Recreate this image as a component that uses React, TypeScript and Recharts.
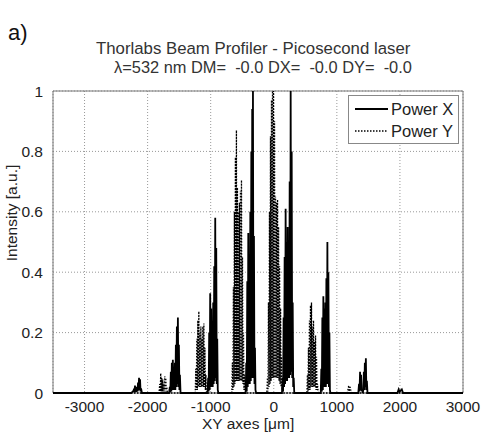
import { CartesianGrid, Line, LineChart, ReferenceArea, XAxis, YAxis } from "recharts";

// positions in um, intensity in a.u.
const powerXPoints: [number, number][] = [
  [-3500, 0], [-2260, 0], [-2232, 0.005], [-2215, 0.012], [-2207, 0.002], [-2200, 0.025], [-2192, 0.003],
  [-2184, 0.015], [-2176, 0.004], [-2168, 0.02], [-2160, 0.005], [-2152, 0.035], [-2144, 0.008], [-2136, 0.05],
  [-2128, 0.01], [-2120, 0.045], [-2112, 0.005], [-2104, 0.015], [-2090, 0],
  [-1660, 0], [-1648, 0.02], [-1640, 0.002], [-1632, 0.07], [-1624, 0.005], [-1616, 0.1], [-1608, 0.01],
  [-1600, 0.11], [-1592, 0.01], [-1584, 0.08], [-1576, 0.01], [-1568, 0.1], [-1560, 0.01], [-1552, 0.16],
  [-1544, 0.02], [-1536, 0.22], [-1528, 0.03], [-1520, 0.25], [-1512, 0.02], [-1504, 0.16], [-1496, 0.01],
  [-1488, 0.06], [-1478, 0],
  [-1050, 0], [-1040, 0.05], [-1032, 0.005], [-1024, 0.2], [-1016, 0.01], [-1008, 0.33], [-1000, 0.02],
  [-992, 0.28], [-984, 0.02], [-976, 0.22], [-968, 0.02], [-960, 0.3], [-952, 0.03], [-944, 0.42],
  [-936, 0.04], [-928, 0.58], [-920, 0.05], [-912, 0.48], [-904, 0.03], [-896, 0.18], [-888, 0.01], [-878, 0],
  [-445, 0], [-436, 0.1], [-428, 0.005], [-420, 0.37], [-412, 0.02], [-404, 0.53], [-396, 0.03], [-388, 0.45],
  [-380, 0.03], [-372, 0.6], [-364, 0.04], [-356, 0.8], [-348, 0.05], [-342, 0.94], [-336, 0.06], [-330, 1.0],
  [-322, 0.05], [-314, 0.52], [-306, 0.03], [-298, 0.15], [-290, 0.01], [-280, 0],
  [130, 0], [140, 0.05], [148, 0.005], [156, 0.25], [164, 0.02], [172, 0.45], [180, 0.03], [188, 0.61],
  [196, 0.04], [204, 0.5], [212, 0.04], [220, 0.55], [228, 0.05], [236, 0.5], [244, 0.05], [252, 0.7],
  [260, 0.06], [268, 1.0], [276, 0.07], [284, 0.8], [292, 0.05], [300, 0.3], [308, 0.02], [316, 0.05], [325, 0],
  [745, 0], [754, 0.08], [762, 0.005], [770, 0.25], [778, 0.01], [786, 0.32], [794, 0.02], [802, 0.28],
  [810, 0.02], [818, 0.3], [826, 0.02], [834, 0.38], [842, 0.03], [850, 0.5], [858, 0.03], [866, 0.4],
  [874, 0.02], [882, 0.2], [890, 0.01], [898, 0],
  [1340, 0], [1352, 0.03], [1360, 0.005], [1368, 0.07], [1376, 0.01], [1384, 0.06], [1392, 0.01], [1400, 0.01],
  [1410, 0], [1420, 0.01], [1428, 0.07], [1436, 0.01], [1444, 0.1], [1452, 0.02], [1460, 0.115], [1468, 0.01],
  [1476, 0.04], [1486, 0],
  [1960, 0], [1980, 0.012], [1995, 0.004], [2010, 0.008], [2030, 0.012], [2050, 0], [3000, 0],
];

const powerYPoints: [number, number][] = [
  [-3500, 0],
  [-1820, 0], [-1808, 0.03], [-1800, 0.005], [-1792, 0.065], [-1784, 0.005], [-1776, 0.05], [-1768, 0.005],
  [-1760, 0.045], [-1752, 0.005], [-1744, 0.03], [-1736, 0.005], [-1728, 0.055], [-1720, 0.005], [-1712, 0.05],
  [-1704, 0.005], [-1696, 0.02], [-1686, 0],
  [-1245, 0], [-1236, 0.08], [-1228, 0.01], [-1220, 0.18], [-1212, 0.01], [-1204, 0.24], [-1196, 0.02],
  [-1188, 0.27], [-1180, 0.02], [-1172, 0.2], [-1164, 0.02], [-1156, 0.22], [-1148, 0.02], [-1140, 0.18],
  [-1132, 0.02], [-1124, 0.22], [-1116, 0.02], [-1108, 0.23], [-1100, 0.02], [-1092, 0.15], [-1084, 0.01],
  [-1076, 0.06], [-1066, 0],
  [-665, 0], [-656, 0.1], [-648, 0.01], [-640, 0.35], [-632, 0.02], [-624, 0.6], [-616, 0.03], [-608, 0.78],
  [-600, 0.04], [-592, 0.87], [-584, 0.04], [-576, 0.68], [-568, 0.04], [-560, 0.6], [-552, 0.04], [-544, 0.63],
  [-536, 0.04], [-528, 0.67], [-520, 0.04], [-512, 0.705], [-504, 0.04], [-496, 0.45], [-488, 0.03], [-480, 0.2],
  [-472, 0.01], [-464, 0.06], [-454, 0],
  [-110, 0], [-100, 0.05], [-92, 0.005], [-84, 0.3], [-76, 0.02], [-68, 0.6], [-60, 0.03], [-52, 0.85],
  [-44, 0.04], [-36, 0.97], [-28, 0.05], [-20, 1.0], [-12, 0.05], [-4, 1.0], [4, 0.05], [12, 0.9], [20, 0.05],
  [28, 0.65], [36, 0.05], [44, 0.63], [52, 0.05], [60, 0.64], [68, 0.05], [76, 0.55], [84, 0.04], [92, 0.42],
  [100, 0.03], [108, 0.28], [116, 0.02], [124, 0.12], [132, 0.01], [140, 0.03], [150, 0],
  [525, 0], [534, 0.06], [542, 0.005], [550, 0.15], [558, 0.01], [566, 0.24], [574, 0.01], [582, 0.29],
  [590, 0.02], [598, 0.3], [606, 0.02], [614, 0.22], [622, 0.02], [630, 0.24], [638, 0.02], [646, 0.17],
  [654, 0.02], [662, 0.19], [670, 0.01], [678, 0.12], [686, 0.01], [694, 0.03], [704, 0],
  [1165, 0], [1180, 0.015], [1188, 0.025], [1196, 0.005], [1204, 0.015], [1212, 0.02], [1225, 0.003], [1240, 0],
  [3000, 0],
];

const xTicks = [-3000, -2000, -1000, 0, 1000, 2000, 3000];
const yTicks = [0, 0.2, 0.4, 0.6, 0.8, 1];

const seriesNames = ["Power X", "Power Y"];
const titleLines = [
  "Thorlabs Beam Profiler - Picosecond laser",
  "\u03bb=532 nm DM=  -0.0 DX=  -0.0 DY=  -0.0",
];

const powerX = powerXPoints.map(([x, y]) => ({ x, y }));
const powerY = powerYPoints.map(([x, y]) => ({ x, y }));

const FONT = "'Liberation Sans', Arial, sans-serif";

function LegendBox() {
  return (
    <div
      style={{
        position: "absolute",
        left: 348,
        top: 95,
        width: 111,
        height: 49,
        border: "1px solid #888",
        background: "#fff",
        fontFamily: FONT,
        fontSize: 16.5,
        color: "#222",
        boxSizing: "border-box",
        paddingTop: 2,
        zIndex: 2,
      }}
    >
      {seriesNames.map((name, i) => (
        <div key={name} style={{ display: "flex", alignItems: "center", height: 22 }}>
          <svg width={38} height={10} style={{ marginLeft: 6 }}>
            <line
              x1={0}
              x2={33}
              y1={5}
              y2={5}
              stroke="#000"
              strokeWidth={i === 0 ? 2 : 1.5}
              strokeDasharray={i === 0 ? undefined : "1.5 1.5"}
            />
          </svg>
          <span style={{ marginLeft: -2 }}>{name}</span>
        </div>
      ))}
    </div>
  );
}

export default function App() {
  return (
    <div
      style={{
        position: "absolute",
        left: 0,
        top: 0,
        width: 483,
        height: 432,
        background: "#fff",
        fontFamily: FONT,
        overflow: "hidden",
      }}
    >
      <div style={{ position: "absolute", left: 8, top: 20, fontSize: 22, color: "#111" }}>a)</div>
      <div style={{ position: "absolute", left: 96, top: 39, fontSize: 16.8, color: "#333", whiteSpace: "pre" }}>
        {titleLines[0]}
      </div>
      <div style={{ position: "absolute", left: 114, top: 58, fontSize: 16.4, color: "#333", whiteSpace: "pre" }}>
        {titleLines[1]}
      </div>
      <div
        style={{
          position: "absolute",
          left: 12,
          top: 213,
          fontSize: 15.5,
          color: "#222",
          whiteSpace: "pre",
          transform: "translate(-50%, -50%) rotate(-90deg)",
          zIndex: 2,
        }}
      >
        Intensity [a.u.]
      </div>
      <div
        style={{
          position: "absolute",
          left: 202,
          top: 415,
          fontSize: 15.5,
          lineHeight: "17px",
          color: "#222",
          whiteSpace: "pre",
          zIndex: 2,
        }}
      >
        XY axes [{"\u03bc"}m]
      </div>
      <LineChart width={483} height={432} margin={{ top: 91, right: 20, bottom: 0, left: 0 }}>
        <CartesianGrid stroke="#999" strokeDasharray="1 2" />
        <XAxis
          dataKey="x"
          type="number"
          domain={[-3500, 3000]}
          ticks={xTicks}
          allowDataOverflow
          height={39}
          axisLine={false}
          tickLine={false}
          tickMargin={2}
          tick={{ fill: "#222", fontSize: 15.5, fontFamily: FONT }}
        />
        <YAxis
          type="number"
          domain={[0, 1]}
          ticks={yTicks}
          width={53}
          axisLine={false}
          tickLine={false}
          tickMargin={4}
          tick={{ fill: "#222", fontSize: 15.5, fontFamily: FONT }}
        />
        <ReferenceArea x1={-3500} x2={3000} y1={0} y2={1} fill="none" stroke="#777" strokeWidth={1} />
        <Line
          data={powerY}
          dataKey="y"
          name={seriesNames[1]}
          type="linear"
          stroke="#000"
          strokeWidth={1.3}
          strokeDasharray="1.5 1.5"
          dot={false}
          isAnimationActive={false}
        />
        <Line
          data={powerX}
          dataKey="y"
          name={seriesNames[0]}
          type="linear"
          stroke="#000"
          strokeWidth={1.8}
          dot={false}
          isAnimationActive={false}
        />
      </LineChart>
      <LegendBox />
    </div>
  );
}
